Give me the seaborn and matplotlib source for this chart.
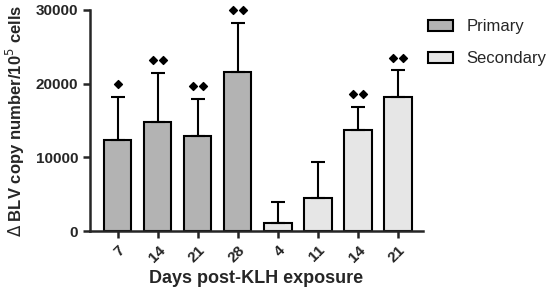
import matplotlib
matplotlib.use("Agg")
import matplotlib.pyplot as plt
import matplotlib.patches as mpatches
import numpy as np
import pandas as pd
import seaborn as sns

# data
days = ["7", "14", "21", "28", "4", "11", "14", "21"]
groups = ["Primary"] * 4 + ["Secondary"] * 4
means = [12300, 14800, 12900, 21600, 1100, 4450, 13700, 18250]
sds = [5950, 6650, 5050, 6650, 2850, 4950, 3200, 3550]
n_marks = [1, 2, 2, 2, 0, 0, 2, 2]   # number of diamonds above each bar

colors = {"Primary": "#b3b3b3", "Secondary": "#e6e6e6"}

df = pd.DataFrame({"key": [g[0] + d for g, d in zip(groups, days)],
                   "day": days, "group": groups, "mean": means, "sd": sds})

sns.set_style("ticks")
plt.rcParams['font.family'] = ['Liberation Sans', 'DejaVu Sans']

fig = plt.figure(figsize=(5.51, 2.94), dpi=100)
ax = fig.add_axes([0.163, 0.214, 0.605, 0.752])

sns.barplot(data=df, x="key", y="mean", hue="group", palette=colors, dodge=False,
            width=0.68, edgecolor="black", linewidth=1.5, errorbar=None,
            legend=False, ax=ax)

x = np.arange(len(df))
ax.errorbar(x, df["mean"], yerr=[np.zeros(len(df)), df["sd"]], fmt="none",
            ecolor="black", elinewidth=1.5, capsize=5, capthick=1.5, zorder=3)

# significance diamonds
for xi, top, n in zip(x, df["mean"] + df["sd"], n_marks):
    if n == 0:
        continue
    offs = [0.0] if n == 1 else [-0.13, 0.13]
    ax.scatter([xi + o for o in offs], [top + 1700] * n, marker="D", s=16,
               color="black", zorder=4, clip_on=False)

ax.set_xlim(-0.7, 7.63)
ax.set_ylim(0, 30000)
ax.set_yticks([0, 10000, 20000, 30000])
ax.set_xticks(x)
ax.set_xticklabels(days, rotation=45, ha="right", rotation_mode="anchor")
ax.tick_params(axis="both", width=1.8, length=5, labelsize=11)
for lab in ax.get_xticklabels() + ax.get_yticklabels():
    lab.set_fontweight("bold")
for s in ["left", "bottom"]:
    ax.spines[s].set_linewidth(1.8)
sns.despine(ax=ax)

ax.set_xlabel("Days post-KLH exposure", fontsize=13, fontweight="bold", labelpad=4)
ax.set_ylabel(r"$\Delta$ BLV copy number/10$^5$ cells", fontsize=12,
              fontweight="bold", labelpad=6)

handles = [mpatches.Patch(facecolor=colors[g], edgecolor="black", linewidth=1.5, label=g)
           for g in ["Primary", "Secondary"]]
ax.legend(handles=handles, loc="upper left", bbox_to_anchor=(1.0, 0.98), frameon=False,
          fontsize=12, handlelength=1.5, handleheight=0.65, handletextpad=0.8,
          labelspacing=1.0, borderpad=0, borderaxespad=0.3)

fig.savefig("out.png", dpi=100)
